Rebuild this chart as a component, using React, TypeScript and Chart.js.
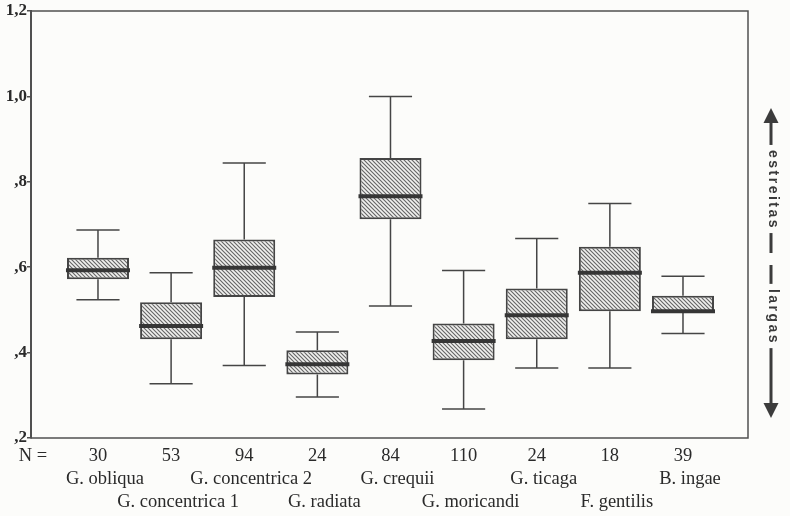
import { useEffect, useRef } from 'react';
import { Chart, registerables } from 'chart.js';

Chart.register(...registerables);

const categories = [
  'G. obliqua', 'G. concentrica 1', 'G. concentrica 2', 'G. radiata', 'G. crequii',
  'G. moricandi', 'G. ticaga', 'F. gentilis', 'B. ingae',
];
const nValues = [30, 53, 94, 24, 84, 110, 24, 18, 39];
const whiskerLow = [0.524, 0.327, 0.370, 0.296, 0.509, 0.268, 0.364, 0.364, 0.445];
const quartile1 = [0.572, 0.431, 0.530, 0.349, 0.7125, 0.382, 0.431, 0.497, 0.494];
const medians = [0.593, 0.4625, 0.599, 0.373, 0.766, 0.427, 0.4875, 0.587, 0.497];
const quartile3 = [0.622, 0.518, 0.665, 0.4055, 0.8555, 0.468, 0.550, 0.648, 0.533];
const whiskerHigh = [0.687, 0.587, 0.844, 0.4485, 1.0, 0.592, 0.667, 0.749, 0.579];

const yTickValues = [0.2, 0.4, 0.6, 0.8, 1.0, 1.2];
const yTickLabels = [',2', ',4', ',6', ',8', '1,0', '1,2'];
const nLabel = 'N =';
const upLabel = 'estreitas';
const downLabel = 'largas';

const INK = '#454545';
const SERIF = '"Liberation Serif", "Times New Roman", serif';

export default function App() {
  const ref = useRef<HTMLCanvasElement>(null);

  useEffect(() => {
    document.body.style.margin = '0';
    const canvas = ref.current!;

    const tile = document.createElement('canvas');
    tile.width = 4;
    tile.height = 4;
    const t = tile.getContext('2d')!;
    t.fillStyle = '#f1f1ef';
    t.fillRect(0, 0, 4, 4);
    t.strokeStyle = '#666666';
    t.lineWidth = 1.15;
    t.beginPath();
    t.moveTo(-1, -1); t.lineTo(5, 5);
    t.moveTo(-1, 3); t.lineTo(1, 5);
    t.moveTo(3, -1); t.lineTo(5, 1);
    t.stroke();
    const pattern = canvas.getContext('2d')!.createPattern(tile, 'repeat')!;

    const capHalf = 0.295;
    const boxHalf = 0.424;
    const nTick = -0.889;

    const extras = {
      id: 'boxExtras',
      beforeDraw(chart: any) {
        const ctx = chart.ctx;
        ctx.save();
        ctx.fillStyle = '#fcfcfa';
        ctx.fillRect(0, 0, chart.width, chart.height);
        ctx.restore();
      },
      beforeDatasetsDraw(chart: any) {
        const ctx = chart.ctx;
        const xs = chart.scales.x;
        const ys = chart.scales.y;
        ctx.save();
        ctx.strokeStyle = INK;
        ctx.lineWidth = 1.5;
        categories.forEach((_, i) => {
          const x = xs.getPixelForValue(i);
          const xl = xs.getPixelForValue(i - capHalf);
          const xr = xs.getPixelForValue(i + capHalf);
          const yHi = ys.getPixelForValue(whiskerHigh[i]);
          const yLo = ys.getPixelForValue(whiskerLow[i]);
          const yQ3 = ys.getPixelForValue(quartile3[i]);
          const yQ1 = ys.getPixelForValue(quartile1[i]);
          ctx.beginPath();
          ctx.moveTo(x, yHi); ctx.lineTo(x, yQ3);
          ctx.moveTo(x, yQ1); ctx.lineTo(x, yLo);
          ctx.moveTo(xl, yHi); ctx.lineTo(xr, yHi);
          ctx.moveTo(xl, yLo); ctx.lineTo(xr, yLo);
          ctx.stroke();
        });
        ctx.restore();
      },
      afterDatasetsDraw(chart: any) {
        const ctx = chart.ctx;
        const xs = chart.scales.x;
        const ys = chart.scales.y;
        ctx.save();
        ctx.strokeStyle = '#363636';
        ctx.lineWidth = 4;
        categories.forEach((_, i) => {
          const xl = xs.getPixelForValue(i - boxHalf) - 1;
          const xr = xs.getPixelForValue(i + boxHalf) + 1;
          const y = ys.getPixelForValue(medians[i]);
          ctx.beginPath();
          ctx.moveTo(xl, y); ctx.lineTo(xr, y);
          ctx.stroke();
        });
        ctx.restore();
      },
      afterDraw(chart: any) {
        const ctx = chart.ctx;
        const a = chart.chartArea;
        const xs = chart.scales.x;
        ctx.save();
        ctx.strokeStyle = '#505050';
        ctx.lineWidth = 1.5;
        ctx.strokeRect(a.left, a.top, a.right - a.left, a.bottom - a.top);

        // species names in two staggered rows
        ctx.font = `18.5px ${SERIF}`;
        ctx.fillStyle = '#2a2a2a';
        ctx.textAlign = 'center';
        ctx.textBaseline = 'middle';
        categories.forEach((name, i) => {
          const x = xs.getPixelForValue(i) + 7;
          const y = a.bottom + (i % 2 === 0 ? 41 : 64);
          ctx.fillText(name, x, y);
        });

        // side arrows
        const ax = a.right + 23;
        const topTip = a.top + 97;
        const topSplit = a.top + 242;
        const botSplit = a.top + 254;
        const botTip = a.top + 407;
        const head = 15;
        const hw = 7.5;
        ctx.strokeStyle = '#3c3c3c';
        ctx.fillStyle = '#3c3c3c';
        ctx.lineWidth = 3;
        ctx.beginPath();
        ctx.moveTo(ax, topTip + head - 1); ctx.lineTo(ax, topSplit);
        ctx.moveTo(ax, botSplit); ctx.lineTo(ax, botTip - head + 1);
        ctx.stroke();
        ctx.beginPath();
        ctx.moveTo(ax, topTip); ctx.lineTo(ax - hw, topTip + head); ctx.lineTo(ax + hw, topTip + head);
        ctx.closePath();
        ctx.fill();
        ctx.beginPath();
        ctx.moveTo(ax, botTip); ctx.lineTo(ax - hw, botTip - head); ctx.lineTo(ax + hw, botTip - head);
        ctx.closePath();
        ctx.fill();

        const drawVert = (text: string, cy: number) => {
          ctx.save();
          ctx.translate(ax + 2, cy);
          ctx.rotate(Math.PI / 2);
          ctx.font = 'bold 14px "Liberation Sans", Arial, sans-serif';
          (ctx as any).letterSpacing = '2.5px';
          const w = ctx.measureText(text).width;
          ctx.fillStyle = '#fcfcfa';
          ctx.fillRect(-w / 2 - 5, -10, w + 8, 20);
          ctx.fillStyle = '#3a3a3a';
          ctx.textAlign = 'left';
          ctx.textBaseline = 'middle';
          ctx.fillText(text, -w / 2, 0);
          ctx.restore();
        };
        drawVert(upLabel, a.top + 179);
        drawVert(downLabel, a.top + 306);
        ctx.restore();
      },
    };

    const chart = new Chart(canvas, {
      type: 'bar',
      data: {
        datasets: [
          {
            data: categories.map((_, i) => ({ x: i, y: [quartile1[i], quartile3[i]] })) as any,
            backgroundColor: pattern as any,
            borderColor: INK,
            borderWidth: 2,
            borderSkipped: false,
            // bar ruler uses the smallest tick gap (N-label tick to first box = 0.889 units)
            barPercentage: (2 * boxHalf) / Math.abs(nTick),
            categoryPercentage: 1,
          },
        ],
      },
      options: {
        responsive: false,
        animation: false,
        devicePixelRatio: 1,
        layout: { padding: { top: 11, right: 42, left: 0, bottom: 0 } },
        plugins: { legend: { display: false }, tooltip: { enabled: false } },
        scales: {
          x: {
            type: 'linear',
            offset: false,
            min: -0.916,
            max: 8.889,
            afterBuildTicks: (s: any) => {
              s.ticks = [{ value: nTick }, ...categories.map((_, i) => ({ value: i }))];
            },
            afterFit: (s: any) => { s.height = 78; },
            grid: { display: false, drawTicks: false, tickLength: 0, offset: false },
            border: { display: false },
            ticks: {
              autoSkip: false,
              maxRotation: 0,
              minRotation: 0,
              padding: 7,
              color: '#2a2a2a',
              font: { family: SERIF, size: 18.5, lineHeight: 1.216 },
              callback: (value: any) => {
                const v = Number(value);
                if (v < 0) return nLabel;
                return String(nValues[Math.round(v)]);
              },
            },
          },
          y: {
            type: 'linear',
            min: 0.2,
            max: 1.2,
            afterBuildTicks: (s: any) => {
              s.ticks = yTickValues.map((v) => ({ value: v }));
            },
            afterFit: (s: any) => { s.width = 31; },
            grid: { drawOnChartArea: false, drawTicks: true, tickLength: 4, color: '#505050', lineWidth: 1.5 },
            border: { display: true, color: '#505050', width: 2 },
            ticks: {
              padding: 0,
              color: '#2a2a2a',
              font: { family: SERIF, size: 17, weight: 'bold' },
              callback: (value: any) => {
                const idx = yTickValues.findIndex((v) => Math.abs(v - Number(value)) < 1e-6);
                return idx >= 0 ? yTickLabels[idx] : '';
              },
            },
          },
        },
      },
      plugins: [extras],
    });

    return () => chart.destroy();
  }, []);

  return <canvas ref={ref} width={790} height={516} style={{ display: 'block' }} />;
}
